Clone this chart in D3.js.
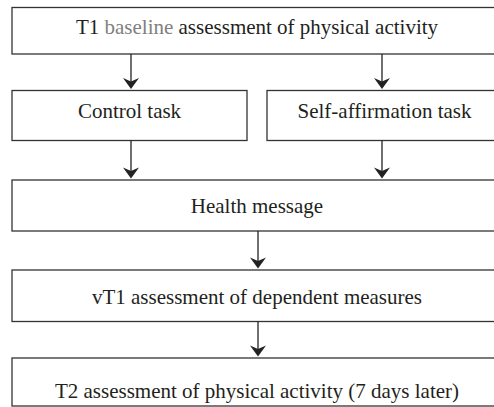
<!DOCTYPE html>
<html>
<head>
<meta charset="utf-8">
<script src="https://cdn.jsdelivr.net/npm/d3@7"></script>
<style>
  html, body { margin: 0; padding: 0; background: #fff; }
  svg { display: block; overflow: hidden; }
  text.label { font-family: 'Liberation Serif', Tinos, 'Times New Roman', Times, 'DejaVu Serif', serif; font-size: 21px; }
</style>
</head>
<body>
<div id="chart"></div>
<script>
// flowchart content
const nodeIds = ['t1', 'control', 'affirm', 'message', 'vt1', 't2'];
const nodeLabels = [
  [['T1 ', false], ['baseline', true], [' assessment of physical activity', false]],
  [['Control task', false]],
  [['Self-affirmation task', false]],
  [['Health message', false]],
  [['vT1 assessment of dependent measures', false]],
  [['T2 assessment of physical activity (7 days later)', false]]
];
const edgeFrom = ['t1', 't1', 'control', 'affirm', 'message', 'vt1'];
const edgeTo = ['control', 'affirm', 'message', 'message', 'vt1', 't2'];

// layout (px)
const width = 494, height = 407;
const layout = {
  t1:      { x0: 12,  x1: 502, y0: 7.5,  y1: 54,    ty: 34.3, port: 258 },
  control: { x0: 12,  x1: 247, y0: 90.5, y1: 140.5, ty: 118.3, port: 131 },
  affirm:  { x0: 267, x1: 502, y0: 90.5, y1: 140.5, ty: 118.3, port: 382 },
  message: { x0: 12,  x1: 502, y0: 180,  y1: 231,   ty: 213.3, port: 258 },
  vt1:     { x0: 12,  x1: 502, y0: 270,  y1: 321.5, ty: 304.3, port: 258 },
  t2:      { x0: 12,  x1: 502, y0: 358,  y1: 406,   ty: 398.3, port: 258 }
};

const svg = d3.select('#chart').append('svg')
  .attr('width', width)
  .attr('height', height);

const nodes = nodeIds.map((id, i) => Object.assign({ id: id, label: nodeLabels[i] }, layout[id]));
const byId = {};
nodes.forEach(n => { byId[n.id] = n; n.wide = (n.x1 - n.x0) > 300; });

// boxes
svg.selectAll('rect.box')
  .data(nodes)
  .enter()
  .append('rect')
  .attr('class', 'box')
  .attr('x', d => d.x0)
  .attr('y', d => d.y0)
  .attr('width', d => d.x1 - d.x0)
  .attr('height', d => d.y1 - d.y0)
  .attr('fill', '#fff')
  .attr('stroke', '#333')
  .attr('stroke-width', 1.3);

// labels
const labels = svg.selectAll('text.label')
  .data(nodes)
  .enter()
  .append('text')
  .attr('class', 'label')
  .attr('x', d => (d.x0 + d.x1) / 2)
  .attr('y', d => d.ty)
  .attr('text-anchor', 'middle')
  .attr('fill', '#231f20');

labels.selectAll('tspan')
  .data(d => d.label)
  .enter()
  .append('tspan')
  .attr('fill', d => d[1] ? '#808080' : '#231f20')
  .style('white-space', 'pre')
  .text(d => d[0]);

// arrows
const edges = edgeFrom.map((s, i) => {
  const a = byId[s], b = byId[edgeTo[i]];
  const x = (a.wide && !b.wide) ? b.port : a.port;
  return { x: x, ya: a.y1, yb: b.y0 - 1.5 };
});

svg.selectAll('line.edge')
  .data(edges)
  .enter()
  .append('line')
  .attr('class', 'edge')
  .attr('x1', d => d.x)
  .attr('x2', d => d.x)
  .attr('y1', d => d.ya)
  .attr('y2', d => d.yb - 5)
  .attr('stroke', '#222')
  .attr('stroke-width', 1.3);

svg.selectAll('path.head')
  .data(edges)
  .enter()
  .append('path')
  .attr('class', 'head')
  .attr('d', d => {
    const p = d3.path();
    p.moveTo(d.x, d.yb);
    p.lineTo(d.x - 8, d.yb - 11);
    p.lineTo(d.x, d.yb - 7.5);
    p.lineTo(d.x + 8, d.yb - 11);
    p.closePath();
    return p.toString();
  })
  .attr('fill', '#222');
</script>
</body>
</html>
